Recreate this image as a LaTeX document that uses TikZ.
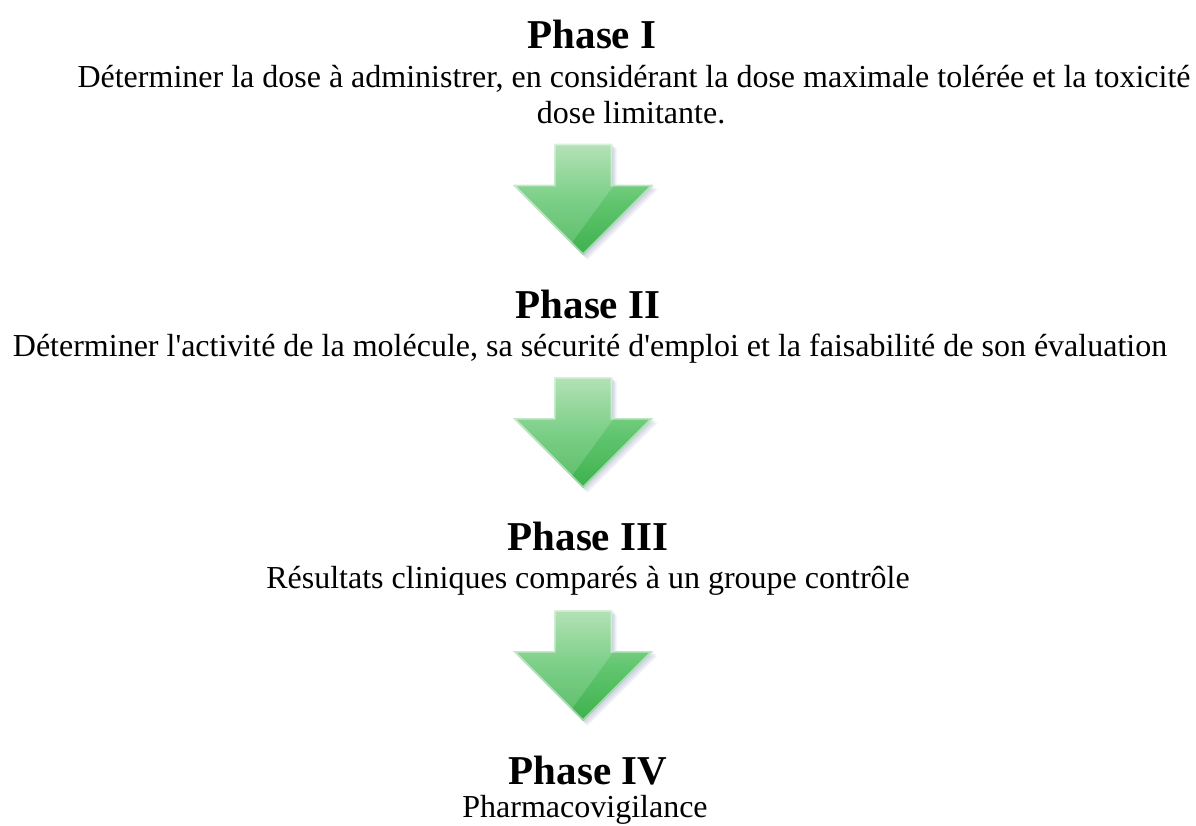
\documentclass[tikz,border=0pt]{standalone}
\usepackage{fontspec}
\setmainfont{Liberation Serif}
\usepackage{tikz}
\usetikzlibrary{positioning}

\definecolor{arrowtop}{HTML}{A6DDA9}
\definecolor{arrowmid}{HTML}{62C670}
\definecolor{arrowbot}{HTML}{3DB14D}
\definecolor{arrowshadow}{HTML}{7F8FB0}

% outline of one down arrow, top centre at (0,0)
\newcommand{\arrowoutline}{(-29,0) -- (29,0) -- (29,41) -- (70,41) -- (0,111) -- (-70,41) -- (-29,41) -- cycle}

\tikzset{
  phasetitle/.style={font=\fontsize{41}{46}\selectfont\bfseries, anchor=base, inner sep=0pt},
  phasetext/.style={font=\fontsize{32}{44}\selectfont, anchor=base, inner sep=0pt},
  pics/greenarrow/.style={code={
    % soft shadow
    \foreach \d in {1.5,3,4.5}
      \fill[arrowshadow, opacity=.13, shift={(\d,\d)}] \arrowoutline;
    % body
    \path[top color=arrowtop, bottom color=arrowbot, middle color=arrowmid] \arrowoutline;
    % gloss and light rim
    \begin{scope}
      \clip \arrowoutline;
      \fill[white, opacity=.16] (-80,-5) -- (31,-5) -- (31,41)
        -- (-12,100) -- (-80,100) -- cycle;
      \draw[white, opacity=.5, line width=3pt] \arrowoutline;
    \end{scope}
  }}
}

\begin{document}
\begin{tikzpicture}[x=1pt, y=-1pt]
  \useasboundingbox[fill=white] (0,0) rectangle (1196,826);

  % phase I
  \node[phasetitle] (p1) at (592,49) {Phase I};
  \node[phasetext] (p1a) at (634,88) {Déterminer la dose à administrer, en considérant la dose maximale tolérée et la toxicité};
  \node[phasetext] (p1b) at (631,124) {dose limitante.};
  \pic at (583,144) {greenarrow};

  % phase II
  \node[phasetitle] (p2) at (588,318) {Phase II};
  \node[phasetext] (p2a) at (590,356) {Déterminer l\textquotesingle activité de la molécule, sa sécurité d\textquotesingle emploi et la faisabilité de son évaluation};
  \pic at (583,377) {greenarrow};

  % phase III
  \node[phasetitle] (p3) at (588,550) {Phase III};
  \node[phasetext] (p3a) at (588,588) {Résultats cliniques comparés à un groupe contrôle};
  \pic at (583,610) {greenarrow};

  % phase IV
  \node[phasetitle] (p4) at (588,784) {Phase IV};
  \node[phasetext] (p4a) at (585,817) {Pharmacovigilance};
\end{tikzpicture}
\end{document}
